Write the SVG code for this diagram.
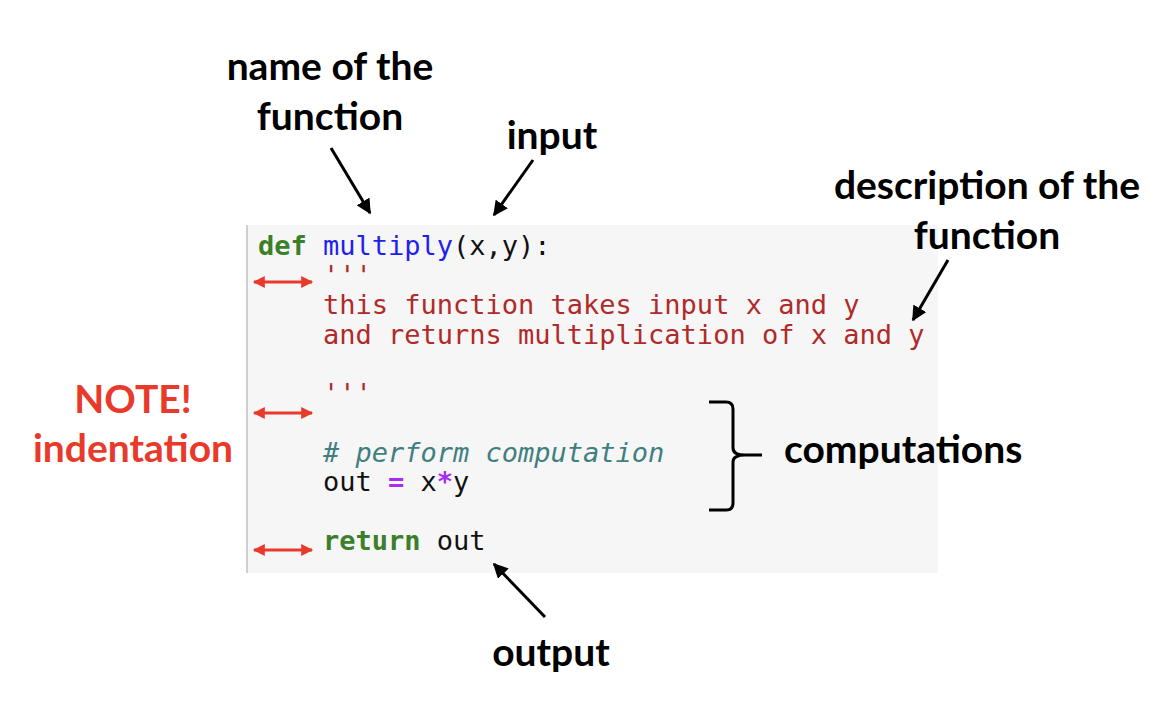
<svg xmlns="http://www.w3.org/2000/svg" width="1160" height="702" viewBox="0 0 1160 702">
<style>
.code{font-family:"DejaVu Sans Mono","Liberation Mono",monospace;font-size:27px;white-space:pre}
.kw{fill:#3b7f2b;font-weight:bold}
.fn{fill:#1f1fee}
.str{fill:#b02a2a}
.cm{fill:#3f7f7f;font-style:italic}
.op{fill:#a62cf0;font-weight:bold}
.plain{fill:#111}
.lbl{font-family:Lato,"Liberation Sans",sans-serif;font-weight:bold;font-size:39px;fill:#000}
.note{fill:#e8392a}
.arr{stroke:#000;stroke-width:3;fill:none}
.red{stroke:#e8392a;stroke-width:3;fill:none}
</style>
<defs>
<marker id="ah" viewBox="0 0 10 10" refX="9" refY="5" markerWidth="5" markerHeight="5" orient="auto" markerUnits="strokeWidth">
<path d="M0,0 L10,5 L0,10 z" fill="#000"/>
</marker>
<marker id="rh" viewBox="0 0 10 10" refX="9" refY="5" markerWidth="5" markerHeight="4" orient="auto-start-reverse" markerUnits="strokeWidth">
<path d="M0,0 L10,5 L0,10 z" fill="#e8392a"/>
</marker>
</defs>
<rect width="1160" height="702" fill="#fff"/>
<g id="codebox">
<rect x="246" y="225" width="692" height="348" fill="#f6f6f6"/>
<rect x="246" y="225" width="2" height="348" fill="#cfcfcf"/>
<text class="code" x="258" y="255"><tspan class="kw">def</tspan><tspan class="plain"> </tspan><tspan class="fn">multiply</tspan><tspan class="plain">(x,y):</tspan></text>
<text class="code str" x="323" y="284.5">'''</text>
<text class="code str" x="323" y="314">this function takes input x and y</text>
<text class="code str" x="323" y="343.5">and returns multiplication of x and y</text>
<text class="code str" x="323" y="402.5">'''</text>
<text class="code cm" x="323" y="461.5"># perform computation</text>
<text class="code" x="323" y="491"><tspan class="plain">out </tspan><tspan class="op">=</tspan><tspan class="plain"> x</tspan><tspan class="op">*</tspan><tspan class="plain">y</tspan></text>
<text class="code" x="323" y="550"><tspan class="kw">return</tspan><tspan class="plain"> out</tspan></text>
</g>
<g id="label-name"><text class="lbl" x="330" y="80" text-anchor="middle">name of the</text><text class="lbl" x="330" y="130" text-anchor="middle">function</text></g>
<g id="label-input"><text class="lbl" x="552" y="149" text-anchor="middle">input</text></g>
<g id="label-description"><text class="lbl" x="987" y="199" text-anchor="middle">description of the</text><text class="lbl" x="987" y="249" text-anchor="middle">function</text></g>
<g id="label-note"><text class="lbl note" x="133" y="413" text-anchor="middle">NOTE!</text><text class="lbl note" x="133" y="462" text-anchor="middle">indentation</text></g>
<g id="label-computations"><text class="lbl" x="784" y="463">computations</text></g>
<g id="label-output"><text class="lbl" x="551" y="666" text-anchor="middle">output</text></g>
<g id="connectors">
<line class="arr" x1="331" y1="148" x2="370" y2="213" marker-end="url(#ah)"/>
<line class="arr" x1="533" y1="160" x2="494" y2="215" marker-end="url(#ah)"/>
<line class="arr" x1="948" y1="260" x2="913" y2="320" marker-end="url(#ah)"/>
<line class="arr" x1="545" y1="617" x2="494" y2="564" marker-end="url(#ah)"/>
<line class="red" x1="254" y1="282" x2="312" y2="282" marker-start="url(#rh)" marker-end="url(#rh)"/>
<line class="red" x1="254" y1="413" x2="312" y2="413" marker-start="url(#rh)" marker-end="url(#rh)"/>
<line class="red" x1="254" y1="550" x2="312" y2="550" marker-start="url(#rh)" marker-end="url(#rh)"/>
<path class="arr" d="M709,402 L726,402 Q733,402 733,409 L733,448 Q733,455 745,455 L762,455 M745,455 Q733,455 733,462 L733,503 Q733,510 726,510 L709,510" stroke-width="2.5"/>
</g>
</svg>
